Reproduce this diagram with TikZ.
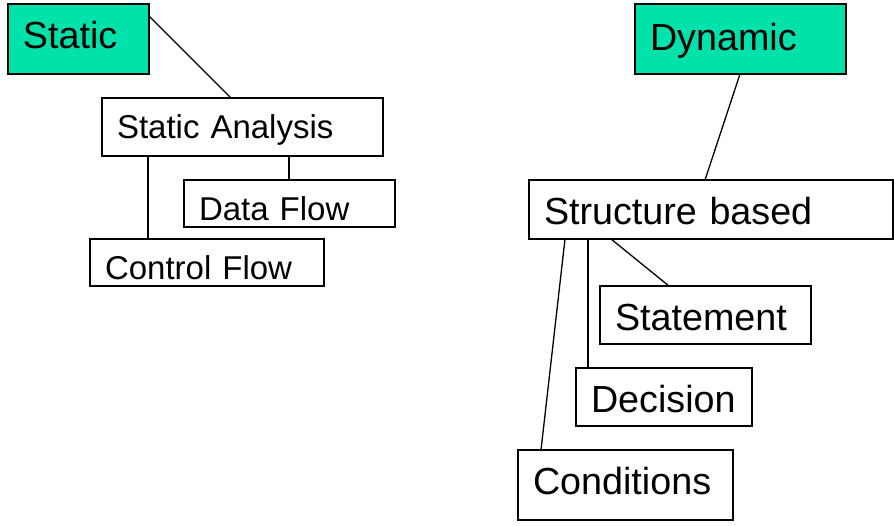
\documentclass[tikz,border=0pt]{standalone}
\usepackage{fontspec}
\setmainfont{Liberation Sans}
\usepackage{tikz}
\usetikzlibrary{positioning}
\usetikzlibrary{calc}
\definecolor{groupteal}{RGB}{0,226,170}

\begin{document}
\begin{tikzpicture}[x=1pt,y=-1pt,
    box/.style={draw, line width=1.8pt, anchor=north west, inner xsep=15pt, inner ysep=0pt, outer sep=0pt, align=left},
    big/.style={box, font=\fontsize{37.7}{40}\selectfont, text height=44pt},
    small/.style={box, font=\fontsize{33}{36}\selectfont, text height=40.6pt},
    group/.style={big, fill=groupteal},
    link/.style={line width=1.3pt}]
        \useasboundingbox (0,0) rectangle (894,525);

        % Static side
        \node[group, text width=111pt, text depth=26pt] (static) at (8,4) {Static};
        \node[small, text width=251pt, text depth=17.4pt] (sa) at (102,98) {Static Analysis};
        \node[small, text width=181pt, text depth=6.4pt] (df) at (184,180) {Data Flow};
        \node[small, text width=204pt, text depth=6.4pt] (cf) at (90,239) {Control Flow};

        % Dynamic side
        \node[group, text width=181pt, text depth=24pt, text height=46pt] (dynamic) at (635,4) {Dynamic};
        \node[big, text width=334pt, text depth=15pt] (sb) at (529,180) {Structure based};
        \node[big, text width=181pt, text depth=14pt] (st) at (600,286) {Statement};
        \node[big, text width=146pt, text depth=14pt] (de) at (576,368) {Decision};
        \node[big, text width=185pt, text depth=26pt] (co) at (518,450) {Conditions};

        % Draw the lines
        \draw[link] ($(static.north east)+(0,12)$) -- ($(sa.north west)+(129,0)$);
        \draw[link] ($(sa.south west)+(46,0)$) -- ($(cf.north west)+(58,0)$);
        \draw[link] ($(sa.south west)+(187,0)$) -- ($(df.north west)+(105,0)$);
        \draw[link] ($(dynamic.south west)+(105,0)$) -- ($(sb.north west)+(176,0)$);
        \draw[link] ($(sb.south west)+(82,0)$) -- ($(st.north west)+(69,0)$);
        \draw[link] ($(sb.south west)+(59,0)$) -- ($(de.north west)+(12,0)$);
        \draw[link] ($(sb.south west)+(36,0)$) -- ($(co.north west)+(23,0)$);
\end{tikzpicture}
\end{document}
